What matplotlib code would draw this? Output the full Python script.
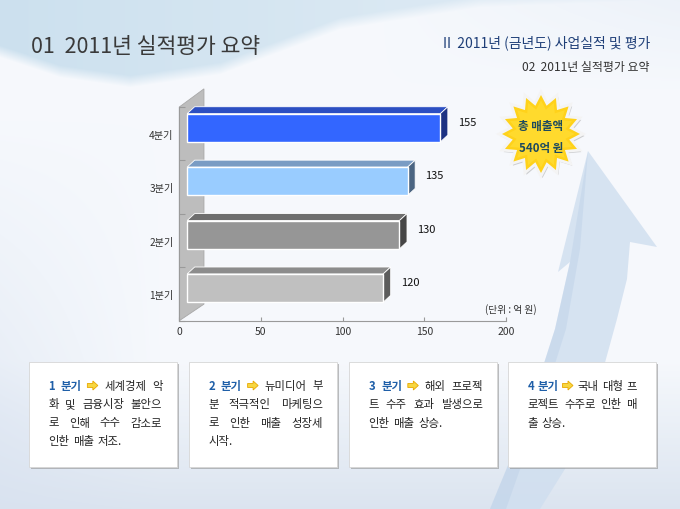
import numpy as np
import matplotlib
matplotlib.use('Agg')
import matplotlib.pyplot as plt
from matplotlib.patches import Polygon, Rectangle

plt.rcParams['font.family'] = ['Noto Sans CJK KR', 'DejaVu Sans']

# ---------------- data ----------------
categories = ['1분기', '2분기', '3분기', '4분기']
sales = [120, 130, 135, 155]
x_ticks = [0, 50, 100, 150, 200]
unit_label = '(단위 : 억 원)'
title = '01  2011년 실적평가 요약'
header1 = 'II  2011년 (금년도) 사업실적 및 평가'
header2 = '02  2011년 실적평가 요약'
star_title = '총 매출액'
quarter_labels = ['1 분기', '2 분기', '3 분기', '4 분기']
notes = [
    ['세계경제 악', '화 및 금융시장 불안으', '로 인해 수수 감소로', '인한 매출 저조.'],
    ['뉴미디어 부', '분 적극적인 마케팅으', '로 인한 매출 성장세', '시작.'],
    ['해외 프로젝', '트 수주 효과 발생으로', '인한 매출 상승.'],
    ['국내 대형 프', '로젝트 수주로 인한 매', '출 상승.'],
]

front_colors = ['#c0c0c0', '#969696', '#99ccff', '#3366ff']
top_colors = ['#8c8c8c', '#6e6e6e', '#7a9cc4', '#2c4fc2']
side_colors = ['#5c5c5c', '#464646', '#4b6582', '#1d3283']

W, H = 680, 510
fig = plt.figure(figsize=(W / 100, H / 100), dpi=100)

# ---------------- background ----------------
bg = fig.add_axes([0, 0, 1, 1], zorder=0)
bg.set_xlim(0, W)
bg.set_ylim(H, 0)
bg.axis('off')

yy, xx = np.mgrid[0:H, 0:W].astype(float)
img = np.ones((H, W, 3)) * np.array([0.965, 0.975, 0.99])
t = np.clip((yy - 360) / 150, 0, 1)[..., None]
img = img * (1 - t) + np.array([0.86, 0.895, 0.94]) * t
s = (np.clip(1 - xx / 160, 0, 1) * np.clip((yy - 120) / 300, 0, 1) * 0.5)[..., None]
img = img * (1 - s) + np.array([0.84, 0.88, 0.94]) * s
yb = np.interp(xx, [0, 60, 130, 220, 340, 480, 680], [58, 78, 88, 75, 30, 8, 0])
a = np.clip((yb - yy) / 12, 0, 1)
hf = np.clip(1 - xx / 520, 0.25, 1)
a = (a * (0.55 + 0.45 * hf))[..., None]
img = img * (1 - a) + np.array([0.80, 0.88, 0.935]) * a
r = (np.clip(1 - yy / 90, 0, 1) * np.clip((xx - 380) / 300, 0, 1) * 0.35)[..., None]
img = img * (1 - r) + np.array([0.86, 0.90, 0.95]) * r
bg.imshow(img, extent=(0, W, H, 0), aspect='auto', zorder=0)

# big faint arrow on the right
arrow_pts = [(588, 152), (657, 248), (630, 243), (627, 280), (617, 320), (595, 400),
             (565, 470), (540, 510), (490, 510), (523, 430), (555, 330), (570, 263),
             (558, 273)]
bg.add_patch(Polygon(arrow_pts, closed=True, facecolor='#cfdeef', edgecolor='none',
                     alpha=0.8, zorder=1))
bg.add_patch(Polygon([(588, 152), (570, 263), (555, 330), (523, 430), (490, 510),
                      (506, 510), (536, 425), (566, 330), (580, 250)],
                     closed=True, facecolor='#bcd0e8', edgecolor='none', alpha=0.45, zorder=1))

# ---------------- titles ----------------
bg.text(31, 47, title, fontsize=15.5, color='#3a3a3a', ha='left', va='center', zorder=5)
bg.text(650, 43, header1, fontsize=10, color='#1f3f78', ha='right', va='center', zorder=5)
bg.text(650, 67, header2, fontsize=8.6, color='#333333', ha='right', va='center', zorder=5)

# ---------------- chart ----------------
ax_l, ax_r, ax_b, ax_t = 179.3, 506.0, 321.7, 108.0
ax = fig.add_axes([ax_l / W, 1 - ax_b / H, (ax_r - ax_l) / W, (ax_b - ax_t) / H], zorder=2)
ax.set_facecolor('none')
ax.set_xlim(0, 200)
ax.set_ylim(0, 4)

ax.add_patch(Polygon([(0, 0), (0, 4), (15.1, 4.34), (15.1, 0.31)], closed=True,
                     facecolor='#bdbdbd', edgecolor='#a8a8a8', lw=0.6, clip_on=False, zorder=1))

shift, dx, dy = 4.8, 4.6, 0.13
bot_off, bar_h = 0.345, 0.53
for i, (cat, v) in enumerate(zip(categories, sales)):
    b = i + bot_off
    tp = b + bar_h
    x0 = shift
    x1 = shift + v
    ax.add_patch(Polygon([(x0, tp), (x1, tp), (x1 + dx, tp + dy), (x0 + dx, tp + dy)],
                         closed=True, facecolor=top_colors[i], edgecolor='white', lw=0.6,
                         clip_on=False, zorder=3))
    ax.add_patch(Polygon([(x1, b), (x1 + dx, b + dy), (x1 + dx, tp + dy), (x1, tp)],
                         closed=True, facecolor=side_colors[i], edgecolor='white', lw=0.6,
                         clip_on=False, zorder=3))
    ax.add_patch(Rectangle((x0, b), v, bar_h, facecolor=front_colors[i], edgecolor='white',
                           lw=1.0, clip_on=False, zorder=4))
    ax.text(v + 15.5, i + 0.72, str(v), fontsize=8, color='#111111', ha='left', va='center',
            zorder=5)

for sp in ['top', 'right']:
    ax.spines[sp].set_visible(False)
for sp in ['left', 'bottom']:
    ax.spines[sp].set_color('#9a9a9a')
    ax.spines[sp].set_linewidth(0.8)
ax.set_xticks(x_ticks)
ax.set_xticklabels([str(x) for x in x_ticks])
ax.tick_params(axis='x', direction='in', length=3, color='#9a9a9a', labelsize=7.5,
               labelcolor='#333333', pad=4)
ax.set_yticks(range(0, 5))
ax.set_yticklabels([])
ax.tick_params(axis='y', which='major', direction='in', length=4, color='#9a9a9a')
ax.set_yticks([i + 0.5 for i in range(len(categories))], minor=True)
ax.set_yticklabels(categories, minor=True)
ax.tick_params(axis='y', which='minor', length=0, labelsize=7.3, labelcolor='#333333', pad=4)

bg.text(537, 310, unit_label, fontsize=7, color='#333333', ha='right', va='center', zorder=5)

# ---------------- starburst ----------------
cx, cy = 541, 135
n = 16
ang = np.linspace(0, 2 * np.pi, 2 * n, endpoint=False) - np.pi / 2
rad = np.where(np.arange(2 * n) % 2 == 0, 42, 31)
star = np.c_[cx + rad * np.cos(ang), cy + rad * np.sin(ang)]
bg.add_patch(Polygon(star + np.array([1.5, 2.0]), closed=True, facecolor='#9a9a9a',
                     edgecolor='none', alpha=0.45, zorder=6))
bg.add_patch(Polygon(star, closed=True, facecolor='#ffd21a', edgecolor='#f4f4f4', lw=2.0,
                     zorder=7))
inner = np.c_[cx + rad * 0.8 * np.cos(ang), cy + rad * 0.8 * np.sin(ang)]
bg.add_patch(Polygon(inner, closed=True, facecolor='#ffe03a', edgecolor='none', alpha=0.6,
                     zorder=7))
bg.text(cx, 126, star_title, fontsize=8.3, fontweight='bold', color='#1e4a5e', ha='center',
        va='center', zorder=8)
bg.text(cx, 149, f'{sum(sales)}억 원', fontsize=8.3, fontweight='bold', color='#1e4a5e',
        ha='center', va='center', zorder=8)

# ---------------- note boxes ----------------
renderer = fig.canvas.get_renderer()
box_lefts = [29, 189, 349.3, 508.3]
box_w, box_top, box_h = 148, 362.5, 105
text_right = [133.3, 133.7, 133.5, 128.4]
line_y0, line_dy = 386.5, 18.4
fs = 8.2


def measure(s, **kw):
    t = bg.text(0, 0, s, fontsize=fs, **kw)
    w = t.get_window_extent(renderer).width
    t.remove()
    return w


for k, left in enumerate(box_lefts):
    bg.add_patch(Rectangle((left + 2, box_top + 2.5), box_w, box_h, facecolor='#8c8c8c',
                           edgecolor='none', alpha=0.55, zorder=3))
    bg.add_patch(Rectangle((left, box_top), box_w, box_h, facecolor='white',
                           edgecolor='#d6d6d6', lw=0.6, zorder=4))
    x0 = left + 19.3
    x1 = left + text_right[k]
    lines = notes[k]
    for li, line in enumerate(lines):
        y = line_y0 + li * line_dy
        tokens = []
        if li == 0:
            for wtok in quarter_labels[k].split(' '):
                tokens.append(('text', wtok, dict(color='#1f5fa8', fontweight='bold')))
            tokens.append(('arrow', None, None))
        for wtok in line.split(' '):
            tokens.append(('text', wtok, dict(color='#222222')))
        widths = []
        for kind, s, kw in tokens:
            widths.append(11.0 if kind == 'arrow' else measure(s, **kw))
        last = (li == len(lines) - 1)
        if last or len(tokens) < 2:
            gap = fs * 100 / 72 * 0.33
        else:
            gap = (x1 - x0 - sum(widths)) / (len(tokens) - 1)
        x = x0
        for (kind, s, kw), w in zip(tokens, widths):
            if kind == 'arrow':
                pts = [(x, y - 2), (x + 5.5, y - 2), (x + 5.5, y - 4.5), (x + 10.5, y),
                       (x + 5.5, y + 4.5), (x + 5.5, y + 2), (x, y + 2)]
                bg.add_patch(Polygon(pts, closed=True, facecolor='#f7d640',
                                     edgecolor='#e8a800', lw=0.6, zorder=6))
            else:
                bg.text(x, y, s, fontsize=fs, ha='left', va='center', zorder=6, **kw)
            x += w + gap

fig.savefig('out.png', dpi=100)
